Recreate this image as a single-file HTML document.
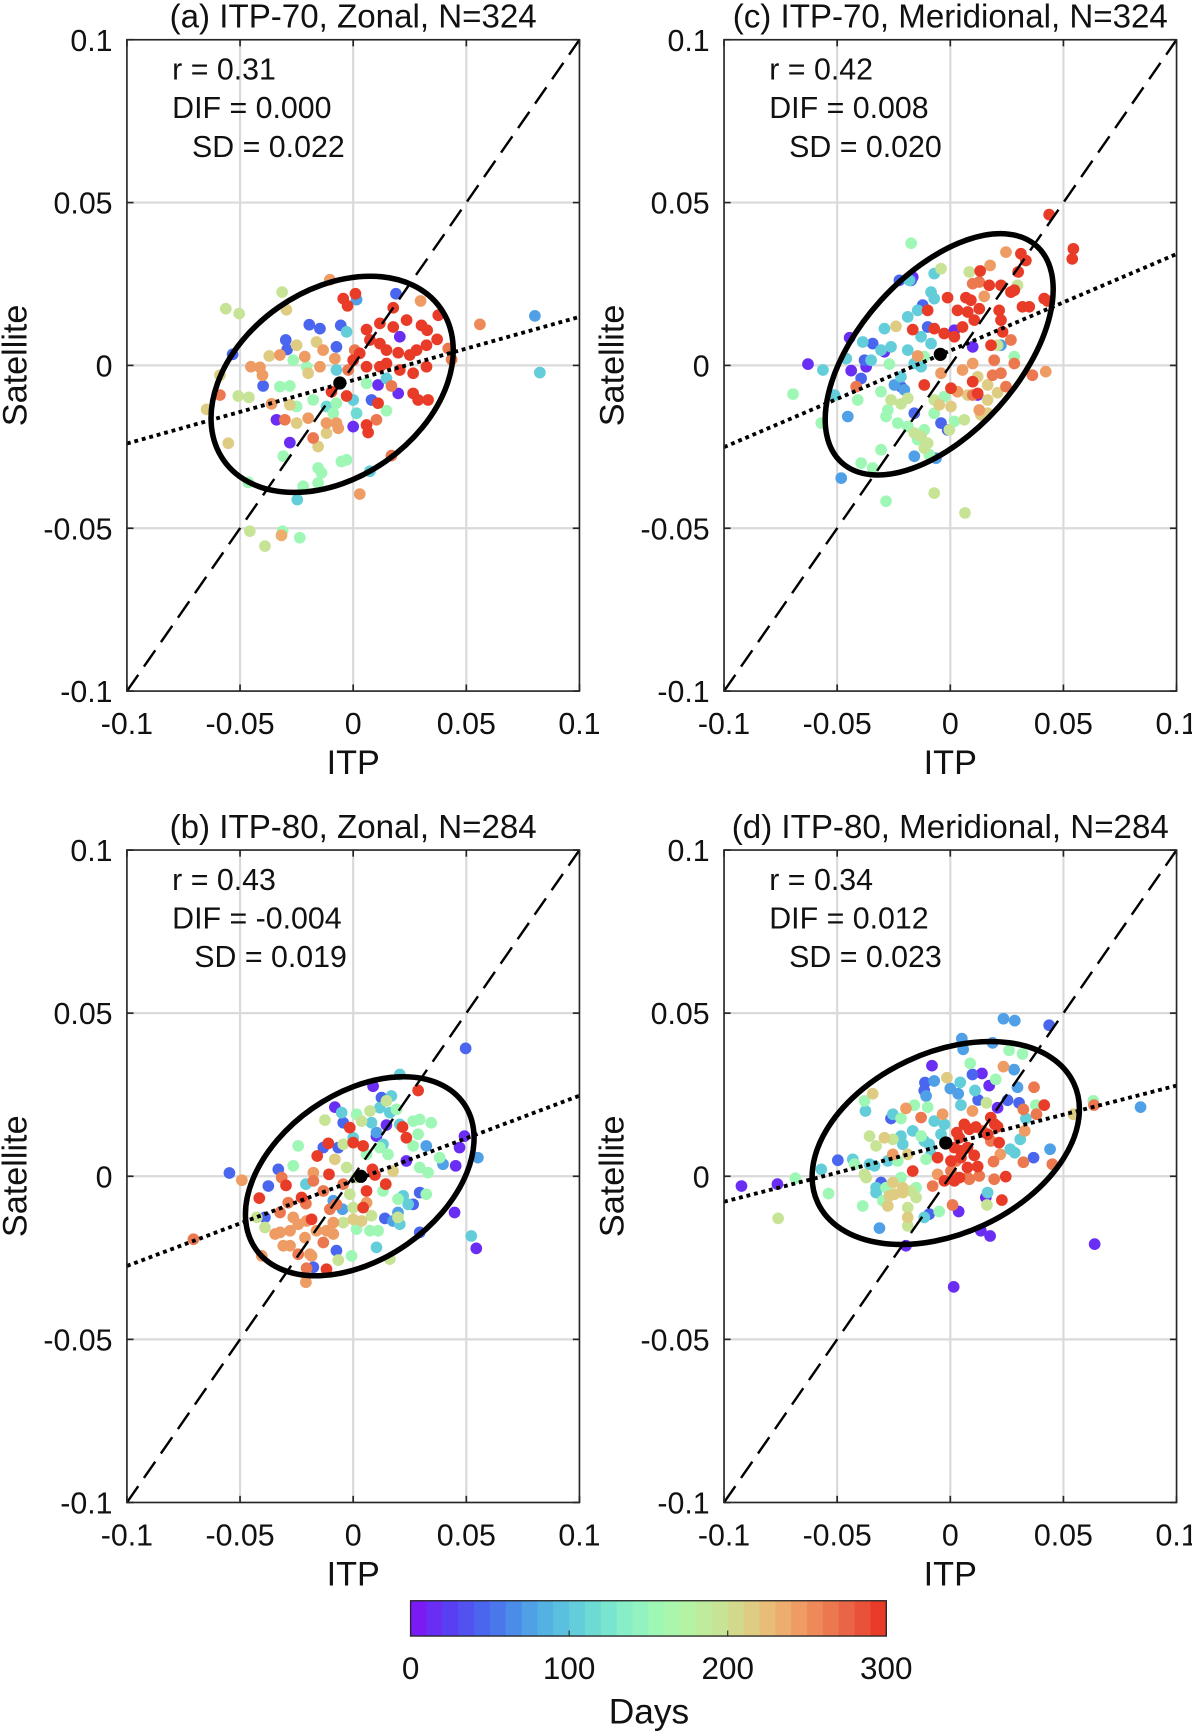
<!DOCTYPE html>
<html><head><meta charset="utf-8"><style>
html,body{margin:0;padding:0;background:#fff}
svg{display:block}
text{font-family:"Liberation Sans",Arial,sans-serif;fill:#111}
</style></head><body>
<svg id="fig" width="1192" height="1731" viewBox="0 0 1080 1568" preserveAspectRatio="none" xmlns="http://www.w3.org/2000/svg"></svg>
<script>
// values in units of 0.001 (m/s)
const itpA=[-4.4,1.0,-2.5,17.7,5.9,11.8,17.7,23.6,30.2,32.7,37.6,37.1,32.4,28.0,25.0,19.9,14.7,11.8,7.4,2.9,0,5.9,11.8,14.7,20.6,26.5,32.4,33.1,28.7,26.5,11.0,5.9,6.6,-2.9,-9.6,43.5,42.0,56.0,29.8,16.9,2.9,
18.9,1.5,-19.4,-14.7,-5.5,-29.8,-29.2,-53.3,-39.8,-28.0,-33.9,20.6,19.9,11.0,0,8.1,-2.9,-7.4,80.3,82.5,7.4,-24.7,14.7,0,-7.4,
-31.4,-56.3,-50.4,-29.5,-30.9,-15.5,-14.0,-5.2,-2.9,-15.5,-22.1,-46.4,-23.6,-31.2,-50.8,-46.1,-55.2,-64.8,-58.9,-45.7,-39.0,-31.7,-28.0,-32.4,-25.0,-8.8,-7.4,5.9,14.7,-17.7,1.5,-11.8,-20.6,-26.5,
-45.2,-41.2,-40.1,-37.1,-32.4,-25.0,-16.2,-13.3,-8.1,-21.4,-14.7,-19.9,-36.1,-28.0,-30.2,-25.0,-19.9,-11.8,-7.4,-6.6,-11.8,-17.7,-15.5,10.3,16.9,0.7,-2.2,-10.3,-58.9];
const satA=[20.5,22.0,18.3,17.7,11.0,12.9,11.8,13.9,12.3,10.8,15.4,8.0,6.2,4.7,3.2,3.9,4.7,6.7,7.8,3.7,1.6,-0.4,-0.4,0.6,-1.4,-2.4,-0.4,-10.6,-10.6,-8.6,-11.6,-18.3,-20.6,-9.4,-8.1,1.8,5.2,12.6,19.8,-27.7,-39.5,
22.0,20.2,12.5,11.3,12.3,7.8,4.9,3.4,-6.3,-23.7,-16.7,8.8,-8.6,-6.0,-18.8,-10.6,10.3,5.7,15.2,-2.2,-32.5,-41.2,-4.0,-10.6,-1.4,
22.5,17.4,15.9,17.1,-27.9,-31.5,-33.0,-29.5,-29.0,-36.1,-37.1,-35.9,-52.9,-50.9,-9.4,-9.8,-23.9,-13.5,-3.0,-50.9,-55.5,-52.2,-6.3,-6.5,-12.6,-14.7,-11.6,-5.5,-13.9,-10.6,-14.7,-12.6,-0.4,1.6,
-0.4,-0.6,-3.0,2.9,3.2,6.2,7.2,4.7,2.1,2.7,-0.4,-2.4,-11.8,-12.1,-16.7,-17.7,-16.2,-17.7,-17.7,-19.3,-20.8,-22.3,-24.9,-16.7,-6.3,4.7,-1.4,26.3,-9.1];
const dayA=[290,290,290,290,290,290,290,290,290,290,290,290,290,290,290,290,290,290,290,290,290,290,290,290,290,290,290,290,290,290,290,290,290,290,290,265,265,255,245,265,245,
40,70,40,40,40,40,40,40,40,10,10,10,10,10,10,40,100,40,70,100,100,100,100,100,100,
190,190,190,215,150,150,150,150,150,150,150,150,150,150,190,190,215,215,215,190,190,235,150,150,150,150,150,150,150,150,110,110,150,150,
245,245,245,215,245,215,215,245,245,245,245,215,245,215,265,215,245,245,245,245,215,265,215,265,265,265,265,245,265];

const itpB=[49.7,-54.7,-49.2,-70.6,55.1,52.2,54.4,44.8,-20.9,
28.7,-1.5,21.8,23.5,0,4.4,-11.0,-15.9,-10.7,8.5,9.6,14.4,5.9,-29.7,-31.6,4.4,-18.4,-22.8,-20.9,-32.3,-41.5,-4.4,-17.6,-13.2,-10.3,-7.4,-13.2,-11.8,-20.6,-24.3,-28.7,
-26.5,-24.3,-27.9,-32.3,-34.5,-30.9,-27.9,-21.3,-16.2,-8.8,-8.8,-11.8,-19.1,-18.4,-40.4,-20.6,-17.6,5.9,0,3.7,-8.1,17.6,
-12.5,7.4,1.5,14.7,3.7,-4.4,-2.9,1.5,-1.5,0,-4.4,8.1,7.4,11.0,1.5,-0.7,-6.6,-39.0,-42.6,16.2,19.8,19.8,13.2,15.4,11.8,5.9,26.5,29.4,34.5,28.7,26.5,29.4,38.2,33.1,-24.3,-26.5,32.3,19.1,
20.6,16.9,-5.1,11.8,16.2,8.1,10.3,0,13.2,20.6,32.3,39.7,24.3,22.1,10.3,20.6,17.6,19.8,-20.9,-33.1,-37.5,12.5,-13.2,-8.8,-4.7,
8.8,-8.1,-4.4,14.7,10.3,49.2,47.0,45.3,29.4,26.5,14.0,29.4,-7.4,-17.6,-39.0,23.5,-6.6];
const satB=[39.2,1.0,-1.2,-19.3,5.7,-18.3,-22.1,-11.1,-32.5,
26.3,14.9,15.1,11.8,10.3,9.3,10.1,6.2,0.6,2.1,0.4,-2.4,-4.5,-2.8,-0.4,-9.6,-13.2,-6.5,-8.4,-11.1,-6.7,-2.4,-1.4,-4.5,-10.1,-8.6,-20.3,-28.5,-28.2,-23.9,-8.1,
-12.6,-14.7,-16.7,-17.2,-17.7,-21.3,-21.3,-18.8,-16.7,-17.7,-14.2,-16.7,-23.9,-24.4,-24.4,-13.7,1.1,-8.1,-13.2,-13.7,5.2,1.6,
17.2,20.0,19.0,23.1,16.9,9.8,2.7,-0.4,-5.5,-9.6,-14.2,-12.1,-16.7,-16.7,-16.2,-24.4,-25.7,-15.7,-12.6,-25.4,-12.6,-7.0,-4.5,6.7,8.8,6.7,16.9,17.4,16.4,12.9,9.3,2.7,5.7,1.1,9.3,3.2,-5.5,20.5,
31.2,24.6,19.5,21.0,19.5,16.4,13.4,11.8,9.8,15.9,9.3,3.7,-8.6,-6.0,-21.8,-14.7,-13.7,-11.1,-2.4,2.1,-3.0,24.1,8.8,-7.5,-10.1,
27.6,21.2,16.4,15.7,12.3,12.3,8.8,3.2,-5.0,-8.6,-12.9,-17.2,-22.8,-27.9,-12.6,4.7,8.8];
const dayB=[40,40,245,265,70,100,10,10,245,
290,290,290,290,290,290,290,290,290,290,290,290,290,290,265,290,290,290,265,265,290,265,265,265,265,265,265,290,265,265,265,
245,245,245,245,245,245,245,245,245,245,245,245,245,245,245,245,245,245,215,215,215,215,
190,190,150,190,190,190,190,190,190,190,190,190,150,150,150,150,190,190,190,190,190,150,150,150,150,150,150,150,150,150,150,150,150,150,150,150,150,150,
100,100,100,100,100,100,70,100,100,100,70,70,100,100,100,100,70,70,100,40,40,40,40,70,70,
10,10,40,10,10,10,10,10,40,40,40,40,40,40,40,10,40];

const itpC=[43.7,54.4,53.9,31.2,33.4,30.0,13.2,17.2,22.4,26.8,28.3,-1.2,6.9,9.1,3.2,7.7,12.8,10.6,5.4,1.8,-2.7,-10.0,-7.1,-16.6,21.6,22.4,18.0,31.9,34.9,41.5,43.0,23.1,9.9,0.3,-11.5,-41.6,26.8,18.7,22.4,24.6,9.9,12.1,
24.6,17.6,9.9,12.8,15.0,28.3,36.3,42.2,-4.1,5.4,9.9,19.4,3.2,12.8,7.7,16.5,20.9,16.5,12.1,16.5,13.5,-4.9,0.3,-14.4,
-17.3,-4.1,8.4,29.7,-24.0,-26.9,-30.6,-26.2,-21.8,-27.6,-28.4,-23.2,-18.8,-15.9,-12.9,-10.0,-11.5,-14.4,-9.3,-7.1,1.8,6.2,-30.6,-28.4,-7.1,6.5,-39.4,-34.3,-69.5,-57.0,-40.9,-11.5,20.9,28.3,-2.7,-7.1,-18.8,-11.5,-0.4,
-18.1,-7.1,-8.5,-7.1,-14.4,-18.8,-29.1,-38.7,-35.0,-30.6,-26.2,-18.8,-12.9,-8.5,-15.9,-12.9,-21.8,-20.3,-24.7,-37.9,-34.3,-39.4,-45.3,-48.2,-15.9,-6.3,-4.1,-1.2,-51.2,-56.3,-46.0,-22.5,-17.3,-12.2,-10.0,-21.8,-15.9,22.4,
-62.9,-43.8,-44.5,-37.2,-29.1,-16.6,1.8,9.9,12.1];
const satC=[46.3,35.8,32.7,34.3,32.2,28.7,29.0,24.6,24.6,22.5,23.1,20.8,20.8,20.0,16.9,16.4,17.4,13.9,11.8,8.8,9.8,16.9,11.3,11.0,16.9,13.9,6.2,18.0,18.0,20.5,19.8,10.3,-5.0,-7.0,-6.0,-6.5,7.8,-3.0,-2.4,-6.5,-9.1,-8.6,
34.8,30.7,25.1,25.6,21.2,0.6,-3.0,-1.9,-2.4,-1.4,0.6,1.6,-8.1,-13.7,-9.1,-6.0,-8.4,-10.6,-3.5,-14.7,-15.2,-12.1,-12.6,2.9,
37.5,29.7,28.7,24.6,12.0,0.4,-8.1,-10.6,-11.8,-13.7,-15.7,-17.7,-18.8,-20.8,-21.8,-23.9,-25.4,-22.8,-27.4,-14.7,-17.2,-16.7,-25.9,-41.7,-39.2,-45.3,-30.0,-31.5,-8.8,-17.7,-10.6,2.7,6.2,2.7,-9.6,-10.6,-10.1,-19.8,-19.8,
26.1,28.2,22.5,20.5,16.9,14.9,11.3,7.2,1.6,4.7,5.7,4.7,8.8,6.7,0.6,-0.4,-3.5,-7.5,-6.0,1.6,6.7,-4.0,-15.7,-34.6,-27.9,-28.5,-17.7,-19.8,-9.1,-1.4,2.1,26.1,26.1,18.5,11.8,-6.5,-14.7,6.2,
0.4,-1.6,8.5,-0.4,4.2,27.1,10.8,5.7,-9.1];
const dayC=[290,290,290,290,290,290,290,290,290,290,290,290,290,290,290,290,290,290,290,290,290,290,290,290,290,290,290,290,290,290,290,290,290,290,290,265,265,265,265,265,265,290,
245,245,265,265,245,265,265,245,245,245,245,265,245,245,215,215,215,215,215,215,215,215,215,245,
150,190,190,190,215,150,150,190,190,150,150,150,150,190,190,190,190,150,150,150,150,190,150,150,190,190,150,150,150,150,150,150,190,150,150,190,190,150,190,
100,100,100,100,100,100,100,100,100,100,100,100,100,100,100,100,100,70,70,40,40,40,70,70,70,70,40,40,100,100,100,40,40,40,40,40,40,70,
10,10,10,10,10,10,10,10,10];

const itpD=[23.5,28.5,43.7,84.1,63.8,1.5,-92.3,-76.4,-76.1,-68.5,-53.8,-38.7,-31.3,-19.6,17.6,13.5,63.2,63.5,54.4,
5.1,5.7,18.7,26.0,31.9,8.8,-8.1,23.5,28.2,9.8,14.0,20.1,-1.5,4.4,-7.1,-11.2,-11.5,-10.7,17.2,29.7,37.0,10.9,0,3.5,12.3,25.3,30.4,16.0,20.9,4.7,-10.0,-15.9,-19.6,-12.9,-25.4,-26.2,-21.8,-34.3,-37.9,-37.5,-3.4,-7.1,-2.6,9.8,32.3,38.1,41.5,37.8,33.4,32.9,30.9,28.5,26.5,44.1,36.8,32.3,45.1,
6.2,8.4,11.3,17.9,19.7,20.9,16.5,14.3,2.9,4.0,1.8,4.7,7.6,10.6,4.7,-5.6,0.3,2.5,7.6,12.1,19.1,22.1,21.6,17.9,0.3,7.6,-2.6,1.8,4.0,8.4,12.8,19.4,24.5,22.8,1.0,-5.6,-7.8,-16.6,
-35.7,-32.8,-29.1,-25.4,-25.4,-21.8,-21.0,-16.6,-12.9,-11.5,-9.3,-4.1,-8.5,-10.7,-18.8,-23.2,-27.6,-33.5,-35.7,-43.1,-42.3,-49.7,-57.0,-37.9,-37.2,-30.6,-28.4,-32.8,-29.8,-27.6,-24.7,-21.0,-17.3,-15.1,-18.8,-18.8,-18.8,-11.5,-9.3,-4.9,3.7,16.2,16.5,15.7,-15.1,-21.8,-25.4,-21.0,-32.8,-26.9];
const satD=[48.3,47.7,46.3,21.2,-20.8,-33.9,-3.0,-2.4,-12.9,-0.6,-5.3,-9.1,-15.9,-21.3,-18.3,-16.7,23.1,21.8,19.0,
42.2,38.9,40.9,38.6,37.5,34.6,33.9,33.6,32.7,31.2,31.5,29.7,30.2,28.8,29.2,28.7,26.3,24.6,27.8,27.3,27.3,26.3,26.9,25.3,23.4,23.3,22.5,22.5,21.0,21.8,21.2,21.8,20.8,18.0,19.0,17.7,17.7,25.3,23.1,20.0,19.0,16.9,15.9,20.0,20.5,19.0,21.8,21.8,17.7,13.9,11.3,7.2,8.3,8.3,5.7,4.3,3.7,
15.9,14.4,15.1,18.0,15.9,15.2,12.9,13.9,13.4,11.8,8.8,7.8,8.8,6.4,5.7,5.7,4.7,4.7,2.7,3.0,4.5,6.7,10.3,10.8,1.6,-0.4,-1.4,-1.4,-0.4,-0.9,0.1,-0.9,-0.1,-7.3,-8.8,0.6,-3.0,1.6,
12.3,9.3,11.8,11.3,6.7,12.3,9.8,13.9,12.3,10.8,9.8,12.9,6.7,5.2,6.7,4.7,4.7,3.2,3.7,5.2,3.7,4.9,2.1,0.6,-0.4,-1.9,-3.5,-5.0,-7.5,-9.1,-5.5,-5.0,-4.5,-6.5,-9.6,-12.6,-15.2,-12.6,-11.6,-10.8,-10.8,-8.8,-5.0,-6.5,-3.5,-0.4,-1.9,-3.5,-3.5,-6.0];
const dayD=[70,70,40,70,10,10,10,10,190,150,150,150,70,10,10,10,150,265,215,
70,70,70,150,150,150,10,245,70,40,10,150,215,100,70,40,40,70,10,70,265,100,70,70,40,40,40,190,10,100,150,150,245,265,100,40,150,215,150,100,245,100,100,245,265,265,290,150,100,245,100,100,100,70,40,265,265,
290,290,290,290,290,290,290,265,290,290,290,290,290,290,290,290,290,265,290,290,265,245,290,265,265,265,290,290,290,265,265,265,290,290,265,245,265,290,
190,190,215,190,245,100,100,100,150,100,100,100,100,150,215,150,100,100,100,100,150,40,100,190,190,40,150,100,150,215,215,215,190,190,190,215,190,100,40,150,10,190,100,10,150,150,215,215,100,215];

const tickVals=[-0.1,-0.05,0,0.05,0.1];
const tickLabels=["-0.1","-0.05","0","0.05","0.1"];
const cbTicks=[0,100,200,300];
const regA=[-0.024,0.0149], regB=[-0.0275,0.0247], regC=[-0.0251,0.0342], regD=[-0.0078,0.0278];
const meanA=[-0.0059,-0.0054], meanB=[0.0034,0.0], meanC=[-0.0044,0.0034], meanD=[-0.002,0.0102];
const statsA=["0.31","0.000","0.022"], statsB=["0.43","-0.004","0.019"], statsC=["0.42","0.008","0.020"], statsD=["0.34","0.012","0.023"];

const NS="http://www.w3.org/2000/svg";
const svg=document.getElementById('fig');
function el(tag,attrs,parent){const e=document.createElementNS(NS,tag);for(const k in attrs)e.setAttribute(k,attrs[k]);(parent||svg).appendChild(e);return e;}
const anchors=[[122,26,245],[90,62,242],[74,98,238],[74,136,234],[82,174,228],[95,202,220],[116,226,208],[142,242,196],[164,248,178],[184,240,160],[202,226,148],[226,200,128],[238,170,108],[238,136,88],[234,100,70],[232,60,40]];
function cmap(d){
  let t=Math.max(0,Math.min(1,d/300));
  t=Math.min(29,Math.floor(t*30))/29;
  const p=t*(anchors.length-1),i=Math.min(anchors.length-2,Math.floor(p)),f=p-i;
  const c=anchors[i].map((v,k)=>Math.round(v+(anchors[i+1][k]-v)*f));
  return `rgb(${c[0]},${c[1]},${c[2]})`;
}
const panels=[
 {id:'a',x0:115,x1:525,yt:36,yb:626,title:'(a) ITP-70, Zonal, N=324',xs:itpA,ys:satA,ds:dayA,reg:regA,mean:meanA,st:statsA,ell:[-0.0093,-0.0058,120,85,-35],sdx:174},
 {id:'c',x0:656,x1:1066,yt:36,yb:626,title:'(c) ITP-70, Meridional, N=324',xs:itpC,ys:satC,ds:dayC,reg:regC,mean:meanC,st:statsC,ell:[-0.0049,0.0034,132,72,-48],sdx:715},
 {id:'b',x0:115,x1:525,yt:770,yb:1361,title:'(b) ITP-80, Zonal, N=284',xs:itpB,ys:satB,ds:dayB,reg:regB,mean:meanB,st:statsB,ell:[0.0029,0.0,115,75,-35],sdx:176},
 {id:'d',x0:656,x1:1066,yt:770,yb:1361,title:'(d) ITP-80, Meridional, N=284',xs:itpD,ys:satD,ds:dayD,reg:regD,mean:meanD,st:statsD,ell:[-0.002,0.0102,128,82,-25],sdx:715}
];
panels.forEach(P=>{
  const g=el('g',{});
  
  
  const sx=v=>P.x0+(v+0.1)/0.2*(P.x1-P.x0);
  const sy=v=>P.yb-(v+0.1)/0.2*(P.yb-P.yt);
  const cx=(P.x0+P.x1)/2;
  const clipId='clip'+P.id;
  const cp=el('clipPath',{id:clipId},g);el('rect',{x:P.x0,y:P.yt,width:P.x1-P.x0,height:P.yb-P.yt},cp);
  tickVals.forEach((v,i)=>{
    if(i>0&&i<4){
      const gx=el('line',{x1:sx(v),x2:sx(v),y1:P.yt,y2:P.yb,stroke:'#dadada','stroke-width':2},g);
      
      const gy=el('line',{x1:P.x0,x2:P.x1,y1:sy(v),y2:sy(v),stroke:'#dadada','stroke-width':2},g);
      
    }
  });
  const pg=el('g',{'clip-path':`url(#${clipId})`},g);
  const n=Math.min(P.xs.length,P.ys.length,P.ds.length);
  const idx=[...Array(n).keys()].sort((a,b)=>P.ds[a]-P.ds[b]);
  idx.forEach(i=>{
    const c=el('circle',{cx:sx(P.xs[i]/1000),cy:sy(P.ys[i]/1000),r:5.3,fill:cmap(P.ds[i])},pg);
    
    
  });
  const dl=el('line',{x1:sx(-0.1),y1:sy(-0.1),x2:sx(0.1),y2:sy(0.1),stroke:'#000','stroke-width':2.2,'stroke-dasharray':'18 9'},g);
  
  const rl=el('line',{x1:sx(-0.1),y1:sy(P.reg[0]),x2:sx(0.1),y2:sy(P.reg[1]),stroke:'#000','stroke-width':3.5,'stroke-dasharray':'3.5 3.5'},g);
  
  const ex=sx(P.ell[0]),ey=sy(P.ell[1]);
  const ee=el('ellipse',{cx:ex,cy:ey,rx:P.ell[2],ry:P.ell[3],fill:'none',stroke:'#000','stroke-width':5,transform:`rotate(${P.ell[4]} ${ex} ${ey})`},g);
  
  const md=el('circle',{cx:sx(P.mean[0]),cy:sy(P.mean[1]),r:6,fill:'#000'},g);
  
  const fr=el('rect',{x:P.x0,y:P.yt,width:P.x1-P.x0,height:P.yb-P.yt,fill:'none',stroke:'#262626','stroke-width':1.5},g);
  
  tickVals.forEach((v,i)=>{
    el('line',{x1:sx(v),x2:sx(v),y1:P.yb,y2:P.yb-6,stroke:'#262626','stroke-width':1.5},g);
    el('line',{x1:sx(v),x2:sx(v),y1:P.yt,y2:P.yt+6,stroke:'#262626','stroke-width':1.5},g);
    el('line',{x1:P.x0,x2:P.x0+6,y1:sy(v),y2:sy(v),stroke:'#262626','stroke-width':1.5},g);
    el('line',{x1:P.x1,x2:P.x1-6,y1:sy(v),y2:sy(v),stroke:'#262626','stroke-width':1.5},g);
    const xt=el('text',{x:sx(v),y:P.yb+39,'font-size':27.5,'text-anchor':'middle'},g);xt.textContent=tickLabels[i];
    
    const yt=el('text',{x:P.x0-13,y:sy(v)+10,'font-size':27.5,'text-anchor':'end'},g);yt.textContent=tickLabels[i];
    
  });
  const tt=el('text',{x:cx,y:P.yt-11,'font-size':30,'text-anchor':'middle'},g);tt.textContent=P.title;
  
  const xl=el('text',{x:cx,y:P.yb+75,'font-size':31,'text-anchor':'middle'},g);xl.textContent='ITP';
  
  const ly=(P.yt+P.yb)/2, lx=P.x0-91;
  const yl=el('text',{x:lx,y:ly,'font-size':31,'text-anchor':'middle',transform:`rotate(-90 ${lx} ${ly})`},g);yl.textContent='Satellite';
  
  const lines=['r = '+P.st[0],'DIF = '+P.st[1],'SD = '+P.st[2]];
  const lxs=[P.x0+41,P.x0+41,P.sdx];
  lines.forEach((s,k)=>{
    const t=el('text',{x:lxs[k],y:P.yt+36+k*35,'font-size':27.5},g);t.textContent=s;
    
  });
});
const cb=el('g',{});


const cbx0=372,cbx1=803,cby=1450,cbh=32;
for(let k=0;k<30;k++){
  el('rect',{x:cbx0+k*(cbx1-cbx0)/30,y:cby,width:(cbx1-cbx0)/30+0.6,height:cbh,fill:cmap((k+0.5)*10)},cb);
}
el('rect',{x:cbx0,y:cby,width:cbx1-cbx0,height:cbh,fill:'none',stroke:'#262626','stroke-width':1.2},cb);
cbTicks.forEach(v=>{
  const x=cbx0+v/300*(cbx1-cbx0);
  el('line',{x1:x,x2:x,y1:cby+cbh,y2:cby+cbh-5,stroke:'#262626','stroke-width':1},cb);
  const t=el('text',{x:x,y:1521,'font-size':28.5,'text-anchor':'middle'},cb);t.textContent=String(v);
  
});
const dt=el('text',{x:588,y:1561,'font-size':32,'text-anchor':'middle'},cb);dt.textContent='Days';

</script>
</body></html>
